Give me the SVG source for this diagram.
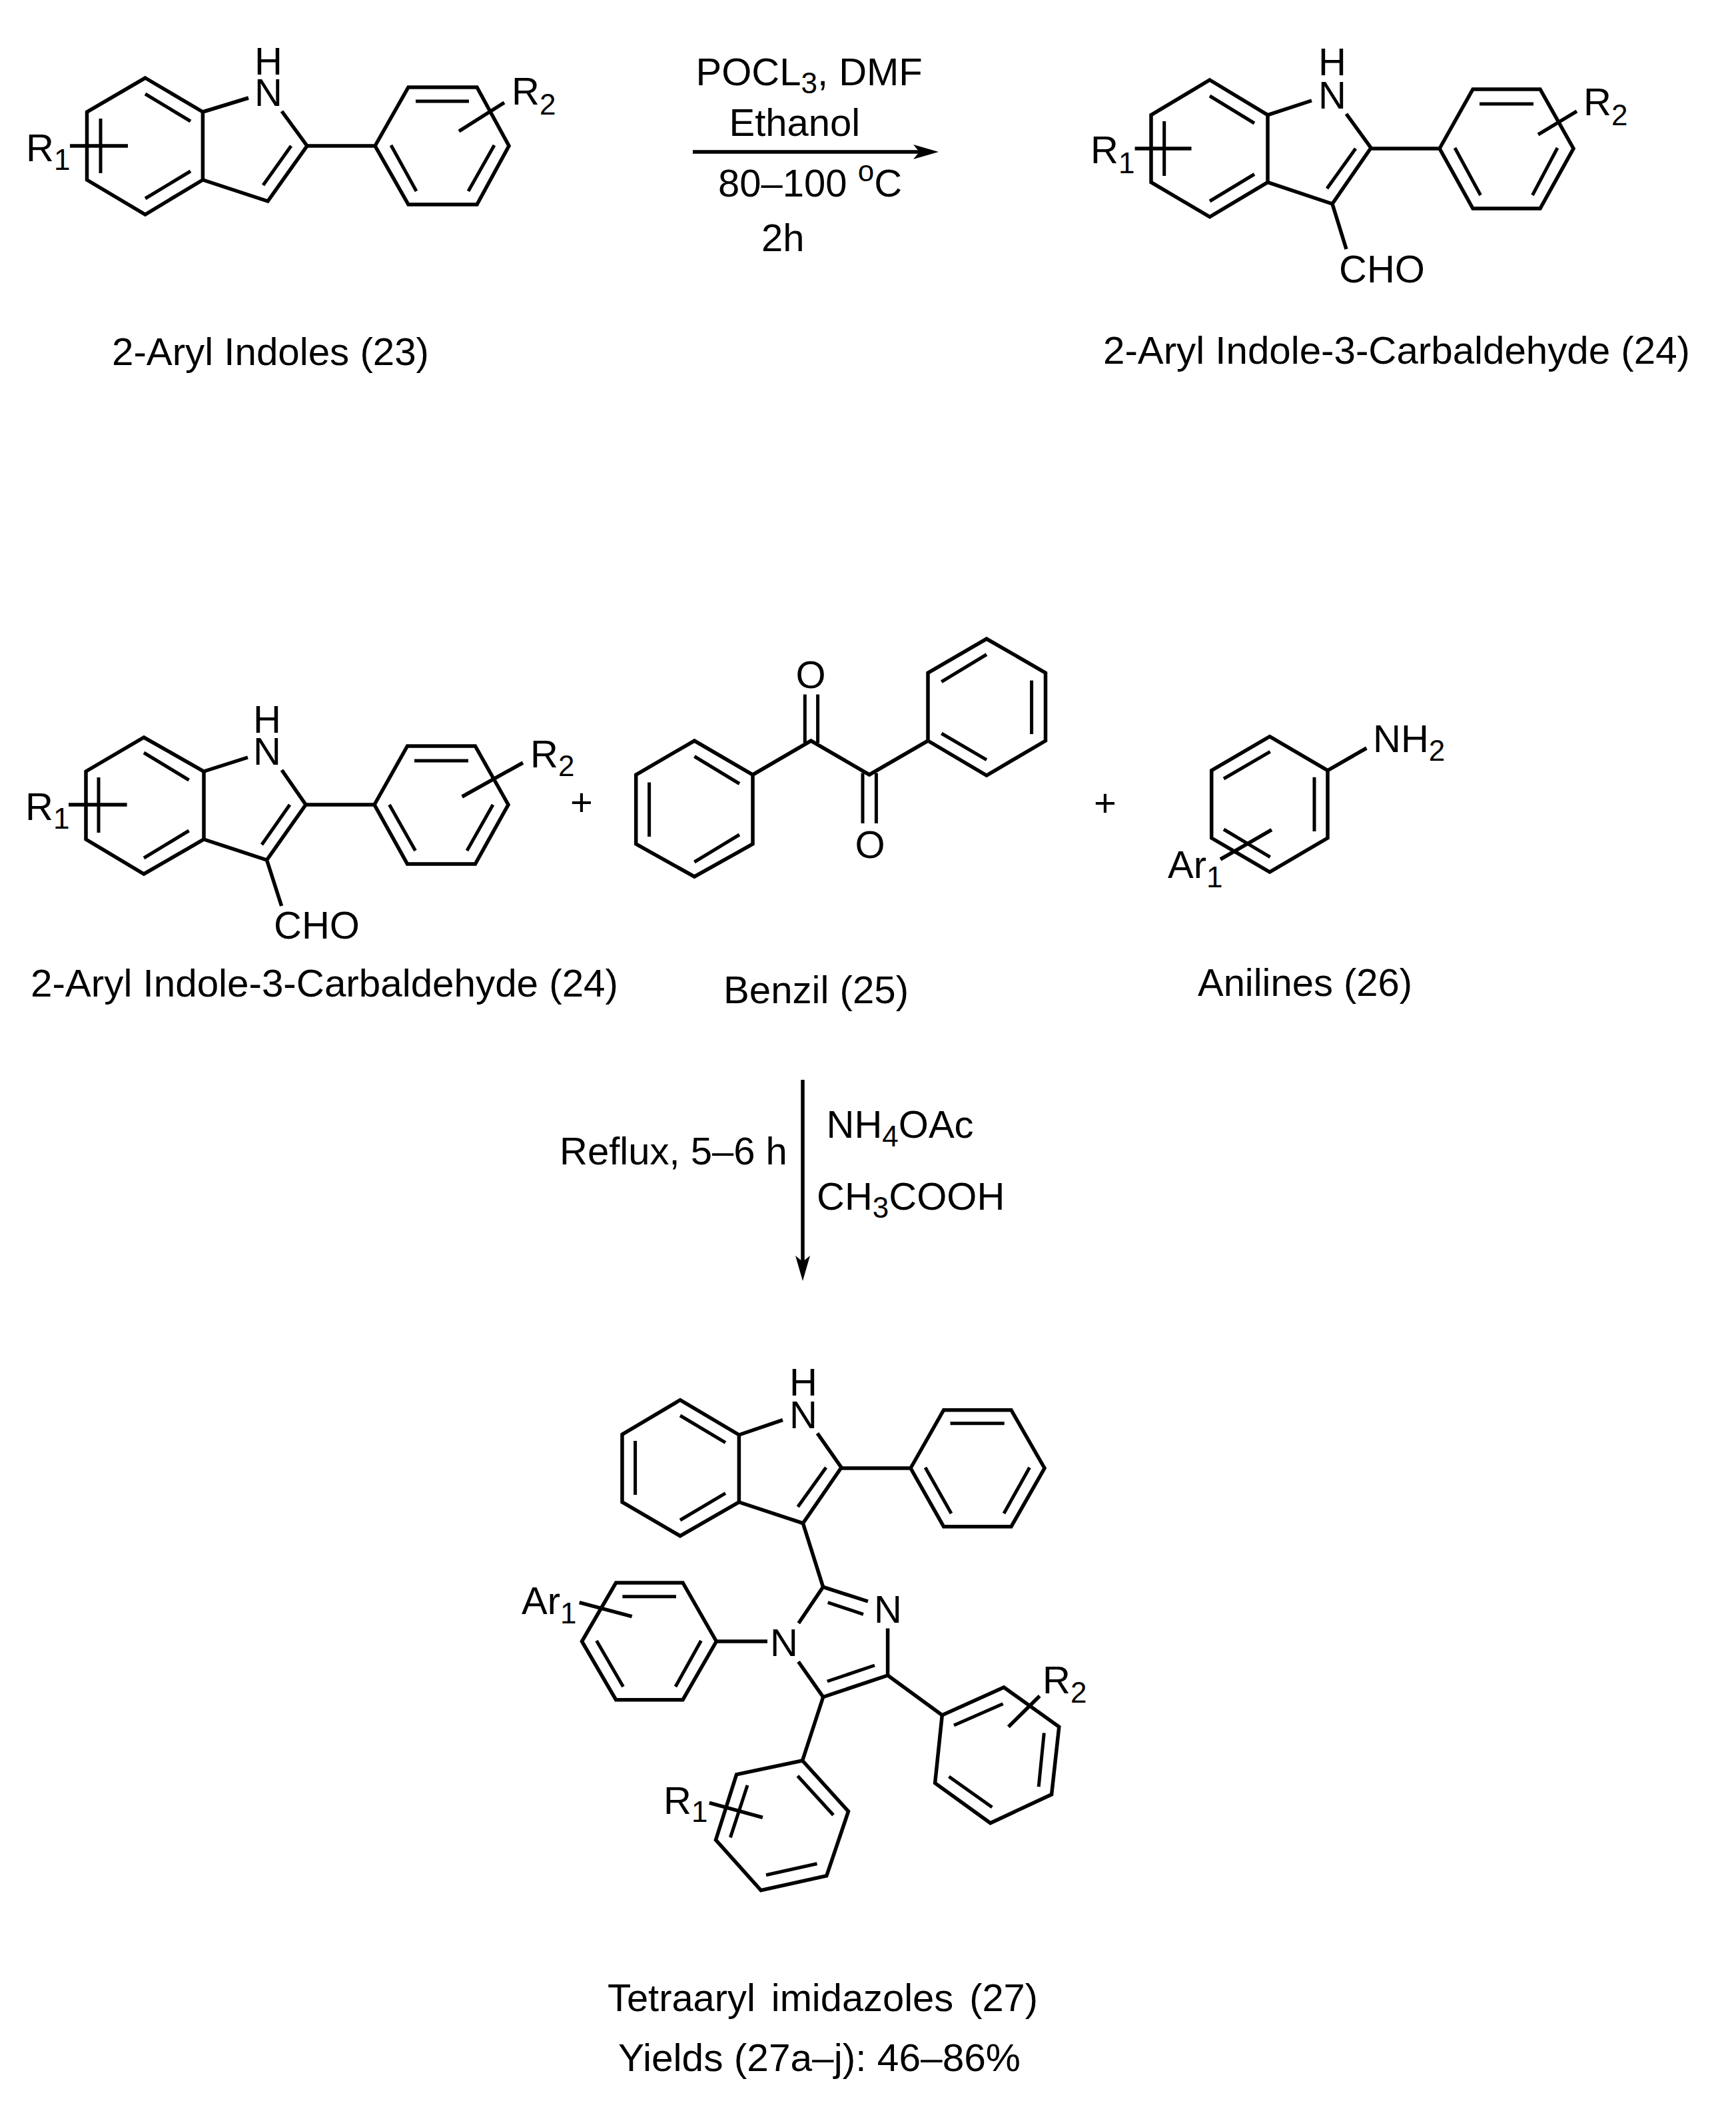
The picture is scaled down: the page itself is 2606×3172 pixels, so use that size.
<svg xmlns="http://www.w3.org/2000/svg" width="2606" height="3172" viewBox="0 0 2606 3172">
<style>
.b{fill:none;stroke:#000;stroke-width:5.5;stroke-linejoin:miter;stroke-linecap:butt}
.i{fill:none;stroke:#000;stroke-width:5;stroke-linecap:butt}
text{font-family:"Liberation Sans",Arial,sans-serif;font-size:58px;fill:#000}
.s{font-size:44px}
.m{text-anchor:middle}
</style>
<defs>
<marker id="head" markerUnits="userSpaceOnUse" markerWidth="44" markerHeight="26" refX="9" refY="12" orient="auto" viewBox="0 0 44 24"><path d="M0 1L38 12L0 23L9 12Z" fill="#000"/></marker>
</defs>
<rect width="2606" height="3172" fill="#fff"/>

<g id="connectors">
<path class="b" d="M1040 228H1380" marker-end="url(#head)"/>
<path class="b" d="M1205 1621V1894" marker-end="url(#head)"/>
</g>

<g id="conditions-top">
<text x="1044.5" y="128">POCL<tspan class="s" dy="12">3</tspan><tspan dy="-12">, DMF</tspan></text>
<text x="1094.5" y="204">Ethanol</text>
<text x="1078" y="295">80–100 <tspan class="s" dy="-23">o</tspan><tspan dy="23">C</tspan></text>
<text x="1143" y="377">2h</text>
</g>

<g id="conditions-bottom">
<text x="840" y="1748">Reflux, 5–6 h</text>
<text x="1240.5" y="1708">NH<tspan class="s" dy="13">4</tspan><tspan dy="-13">OAc</tspan></text>
<text x="1226" y="1816">CH<tspan class="s" dy="12">3</tspan><tspan dy="-12">COOH</tspan></text>
</g>

<g id="compound-23">
<polygon class="b" points="218,117 304.4,168 304.4,270 218,322 130.5,270 130.5,168"/>
<path class="i" d="M218 141L286 182M218 298L286 257M151 178V260"/>
<path class="b" d="M304.4 168L373 147M423 167L461 219L402 302L304.4 270"/>
<path class="i" d="M437 219L395 278"/>
<path class="b" d="M461 219H563M105 219H192M757 154L689 197"/>
<polygon class="b" points="563,219 613,131 716,131 764,219 716,307 613,307"/>
<path class="i" d="M624 152H704M587 218L625 287M742 218L703 287"/>
<text class="m"><tspan x="403" y="112">H</tspan><tspan x="403" y="159">N</tspan></text>
<text x="39" y="242">R<tspan class="s" dy="13">1</tspan></text>
<text x="768" y="157">R<tspan class="s" dy="15">2</tspan></text>
<text x="168" y="548" textLength="476" lengthAdjust="spacingAndGlyphs">2-Aryl Indoles (23)</text>
</g>

<g id="compound-24">
<polygon class="b" points="1816,120 1903,172.6 1903,273.6 1816,325.6 1728,273.6 1728,172.6"/>
<path class="i" d="M1816 144L1883 185M1816 302L1883 261.5M1747.7 182V264"/>
<path class="b" d="M1903 172.6L1969 151M2021 171L2058 222L2000 306L1903 273.6M2000 306L2021 374"/>
<path class="i" d="M2035 223L1992 283"/>
<path class="b" d="M2058 223H2161M1703.6 223H1788.5M2367 167L2309 202"/>
<polygon class="b" points="2161,223 2211,134 2312,134 2362,223 2312,313 2211,313"/>
<path class="i" d="M2221 156H2302M2184 222L2222.5 293M2338 222L2300.5 293"/>
<text class="m"><tspan x="2000" y="113.4">H</tspan><tspan x="2000" y="163">N</tspan></text>
<text x="1637" y="245">R<tspan class="s" dy="15">1</tspan></text>
<text x="2377" y="172.6">R<tspan class="s" dy="15">2</tspan></text>
<text x="2010" y="424">CHO</text>
<text x="1656" y="546" textLength="881" lengthAdjust="spacingAndGlyphs">2-Aryl Indole-3-Carbaldehyde (24)</text>
</g>

<g id="reactant-24">
<polygon class="b" points="216,1107 306,1158 306,1260 216,1312 129,1260 129,1158"/>
<path class="i" d="M216 1130L283.6 1171M216 1288L283.6 1247M148 1167V1250"/>
<path class="b" d="M306 1158L372 1137M423 1156L459 1208L400.5 1291L306 1260M400.5 1291L422.6 1360"/>
<path class="i" d="M435 1208L393 1268"/>
<path class="b" d="M459 1208H562M103 1208H190.6M785 1145L693.6 1196"/>
<polygon class="b" points="562,1208 611.5,1120 713.4,1120 763,1208 713.4,1297 611.5,1297"/>
<path class="i" d="M622 1142H703M584.5 1208L623.5 1277M740 1208L701 1277"/>
<text class="m"><tspan x="401" y="1100">H</tspan><tspan x="401" y="1148">N</tspan></text>
<text x="38" y="1231">R<tspan class="s" dy="13">1</tspan></text>
<text x="796" y="1152">R<tspan class="s" dy="13">2</tspan></text>
<text x="411" y="1409">CHO</text>
<text class="m" x="873" y="1224">+</text>
<text x="46" y="1496" textLength="882" lengthAdjust="spacingAndGlyphs">2-Aryl Indole-3-Carbaldehyde (24)</text>
</g>

<g id="benzil-25">
<polygon class="b" points="1042.4,1112 1130,1163 1130,1267 1042.4,1316 954.7,1267 954.7,1163"/>
<path class="i" d="M1042.4 1135.5L1110 1176.5M1042.4 1294L1110 1253M974.6 1174.5V1256"/>
<path class="b" d="M1130 1163L1217.4 1112L1305 1163L1393 1112"/>
<polygon class="b" points="1393,1112 1393,1010 1481,959 1569.5,1010 1569.5,1112 1481,1164"/>
<path class="i" d="M1481 982.5L1413.3 1023.5M1548.6 1021.5V1102M1413.3 1101L1481 1140.7"/>
<path class="i" d="M1208.3 1042.5V1115M1227.6 1042.5V1115M1295 1160.6V1236M1315.4 1160.6V1236"/>
<text class="m" x="1217" y="1033">O</text>
<text class="m" x="1306" y="1288">O</text>
<text class="m" x="1659" y="1225">+</text>
<text x="1086" y="1506" textLength="278" lengthAdjust="spacingAndGlyphs">Benzil (25)</text>
</g>

<g id="aniline-26">
<polygon class="b" points="1906,1105.7 1993,1156.7 1993,1258 1906,1309 1818.7,1258 1818.7,1156.7"/>
<path class="i" d="M1906.7 1128.3L1837 1169M1973 1166.7V1248M1837 1245L1906.7 1286.7"/>
<path class="b" d="M1993 1156.7L2051.4 1123M1909 1245.7L1832 1290"/>
<text x="2061" y="1129">NH<tspan class="s" dy="13">2</tspan></text>
<text x="1753" y="1318">Ar<tspan class="s" dy="14">1</tspan></text>
<text x="1798" y="1495" textLength="322" lengthAdjust="spacingAndGlyphs">Anilines (26)</text>
</g>

<g id="product-27">
<polygon class="b" points="1021,2101.7 1109.4,2154 1109.4,2255 1021,2305.7 934,2255 934,2153.3"/>
<path class="i" d="M1021 2125L1089 2165.7M1021 2282L1089 2241.7M953.6 2163V2244"/>
<path class="b" d="M1109.4 2154L1175 2131.7M1227 2151.7L1263 2203L1205.4 2286.7L1109.4 2255M1205.4 2286.7L1235.6 2382.3"/>
<path class="i" d="M1240 2203L1197.7 2262"/>
<path class="b" d="M1263 2204H1367"/>
<polygon class="b" points="1367,2204 1416.6,2116.7 1518,2116.7 1568,2204 1518,2291.7 1416.6,2291.7"/>
<path class="i" d="M1426.5 2136.7H1507.7M1389 2203L1428 2272M1545.5 2203L1507 2272"/>
<text class="m"><tspan x="1206" y="2095">H</tspan><tspan x="1206" y="2144">N</tspan></text>
<path class="b" d="M1303 2404L1235.6 2382.3L1198.8 2436.7M1198.5 2494.5L1235.7 2547.5L1332.6 2515V2444.6"/>
<path class="i" d="M1242.7 2405.7L1296 2423.3M1241.8 2524L1313 2500"/>
<text class="m" x="1333" y="2436">N</text>
<text class="m" x="1177" y="2486">N</text>
<path class="b" d="M1152 2464H1075.4"/>
<polygon class="b" points="1075.4,2464 1025,2376 924.6,2376 873.5,2464 924.6,2551.7 1025,2551.7"/>
<path class="i" d="M934.4 2396.7H1015M895.5 2463L935.5 2532M1052.4 2463L1014 2532"/>
<path class="b" d="M869.7 2405.7L948.7 2426.7"/>
<text x="783" y="2423">Ar<tspan class="s" dy="14">1</tspan></text>
<path class="b" d="M1332.6 2515L1414.3 2574.7"/>
<polygon class="b" points="1414.3,2574.7 1507,2533 1589.8,2592.3 1578.6,2693.8 1486.7,2736.7 1403.6,2676.7"/>
<path class="i" d="M1432 2590L1505.6 2557.7M1567.3 2601.5L1559.2 2682.3M1424.5 2667L1489.3 2713"/>
<path class="b" d="M1560.7 2546L1513.8 2592.3"/>
<text x="1565" y="2541.5">R<tspan class="s" dy="14">2</tspan></text>
<path class="b" d="M1235.7 2547.5L1204.6 2643"/>
<polygon class="b" points="1204.6,2643 1105.6,2663.8 1074.5,2762 1142.3,2837.8 1240.8,2816 1273.5,2719.2"/>
<path class="i" d="M1197.4 2666L1251 2724.7M1150 2814.7L1226.5 2797.7M1122 2680L1096.4 2758.4"/>
<path class="b" d="M1064.8 2706.3L1144.9 2728.4"/>
<text x="996" y="2723">R<tspan class="s" dy="12">1</tspan></text>
<text x="912" y="3019" textLength="646" lengthAdjust="spacingAndGlyphs" word-spacing="8">Tetraaryl imidazoles (27)</text>
<text x="928" y="3109" textLength="604" lengthAdjust="spacingAndGlyphs">Yields (27a–j): 46–86%</text>
</g>
</svg>
